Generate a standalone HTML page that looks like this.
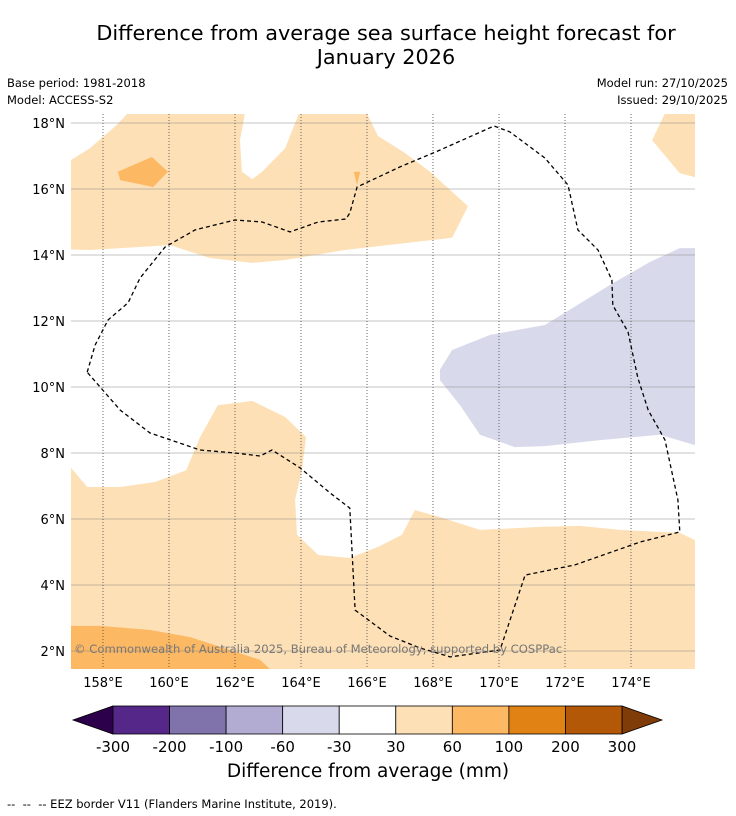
<!DOCTYPE html>
<html><head><meta charset="utf-8">
<style>
html,body{margin:0;padding:0;background:#fff;}
body{width:736px;height:816px;position:relative;overflow:hidden;font-family:"DejaVu Sans","Liberation Sans",sans-serif;}
.t{position:absolute;white-space:nowrap;color:#000;}
</style></head>
<body>
<div class="t" style="left:0;width:772px;text-align:center;top:22px;font-size:20.8px;line-height:23.5px;">Difference from average sea surface height forecast for<br>January 2026</div>
<div class="t" style="left:7px;top:76px;font-size:11.5px;">Base period: 1981-2018</div>
<div class="t" style="left:7px;top:93px;font-size:11.5px;">Model: ACCESS-S2</div>
<div class="t" style="right:8px;top:76px;font-size:11.5px;">Model run: 27/10/2025</div>
<div class="t" style="right:8px;top:93px;font-size:11.5px;">Issued: 29/10/2025</div>
<svg id="svg" width="736" height="816" style="position:absolute;left:0;top:0">
<defs><clipPath id="mc"><rect x="71" y="114" width="624" height="555"/></clipPath></defs>
<g id="map" clip-path="url(#mc)"></g>
<g id="axes"></g>
<g id="cbar"></g>
</svg>
<div class="t" style="left:0;width:736px;text-align:center;top:761px;font-size:18.5px;">Difference from average (mm)</div>
<div class="t" style="left:7px;top:797px;font-size:11.5px;">--&nbsp; --&nbsp; -- EEZ border V11 (Flanders Marine Institute, 2019).</div>
<script>
const lonTicks=[158,160,162,164,166,168,170,172,174];
const latTicks=[2,4,6,8,10,12,14,16,18];
const cbBounds=[-300,-200,-100,-60,-30,30,60,100,200,300];
const cbColors=["#542788","#8073ac","#b2abd2","#d8daeb","#ffffff","#fee0b6","#fdb863","#e08214","#b35806"];
const cbUnder="#2d004b", cbOver="#7f3b08";
const regionTopOrange=[[156.5,16.88],[157.03,16.88],[157.61,17.24],[158.45,17.97],[159.03,18.6],[162.36,18.6],[162.15,17.48],[162.21,16.52],[162.52,16.30],[162.82,16.52],[163.52,17.24],[164.06,18.6],[165.85,18.6],[166.33,17.61],[167.15,17.09],[167.91,16.52],[169.06,15.48],[168.58,14.52],[165.33,14.15],[163.52,13.85],[162.52,13.76],[161.24,13.91],[160.03,14.30],[157.61,14.15],[156.5,14.18]];
const regionNEOrange=[[174.64,17.48],[175.18,18.6],[176.5,18.6],[176.5,16.3],[175.94,16.36],[175.48,16.48]];
const regionSpot1=[[158.45,16.52],[159.48,16.97],[159.97,16.52],[159.52,16.06],[158.52,16.27]];
const regionSpot2=[[165.6,16.52],[165.79,16.52],[165.7,16.12]];
const regionPurple=[[168.21,10.52],[168.58,11.12],[169.73,11.58],[171.39,11.88],[173.36,13.09],[174.58,13.79],[175.48,14.21],[176.5,14.21],[176.5,8.2],[175.94,8.24],[174.88,8.55],[173.06,8.39],[171.39,8.21],[170.48,8.18],[169.42,8.55],[168.82,9.45],[168.21,10.21]];
const regionBottomOrange=[[156.5,7.55],[157.03,7.55],[157.52,6.97],[158.52,6.97],[159.58,7.12],[160.52,7.48],[160.94,8.48],[161.48,9.45],[162.52,9.58],[163.52,9.09],[164.15,8.48],[164.03,7.48],[163.82,6.58],[163.88,5.52],[164.52,4.91],[165.48,4.82],[166.39,5.18],[167.06,5.52],[167.45,6.27],[168.21,6.06],[169.42,5.67],[171.24,5.76],[172.45,5.79],[173.67,5.67],[175.48,5.58],[175.94,5.36],[176.5,5.3],[176.5,1.0],[156.5,1.0]];
const regionBottomDark=[[156.5,2.76],[157.91,2.76],[159.42,2.64],[160.64,2.42],[161.85,2.03],[162.76,1.73],[163.06,1.45],[163.2,1.0],[156.5,1.0]];
const eezLon=[157.52,157.76,158.15,158.76,159.12,159.88,160.79,162.00,162.82,163.67,164.52,165.36,165.48,165.70,167.00,168.21,169.85,170.33,171.39,172.09,172.39,173.00,173.42,173.45,173.91,174.21,174.52,175.03,175.42,175.48,174.27,172.30,170.79,170.03,168.52,167.61,166.70,165.64,165.48,164.88,163.97,163.12,162.76,162.00,160.94,159.42,158.52,157.52];
const eezLat=[10.45,11.27,12.03,12.55,13.30,14.24,14.76,15.06,15.00,14.70,15.00,15.09,15.27,16.06,16.67,17.18,17.91,17.73,16.94,16.12,14.76,14.15,13.24,12.48,11.67,10.27,9.30,8.39,6.58,5.61,5.30,4.61,4.30,2.03,1.82,2.09,2.45,3.24,6.33,6.79,7.55,8.09,7.91,8.00,8.09,8.61,9.30,10.45];

const NS="http://www.w3.org/2000/svg";
const X=lon=>70+(lon-157)*33;
const Y=lat=>123+(18-lat)*33;
function mk(tag,attrs,parent){const e=document.createElementNS(NS,tag);for(const k in attrs)e.setAttribute(k,attrs[k]);parent.appendChild(e);return e;}
const map=document.getElementById('map'),axes=document.getElementById('axes'),cbar=document.getElementById('cbar');
function poly(pts,fill,name){const e=mk('polygon',{points:pts.map(p=>X(p[0]).toFixed(1)+','+Y(p[1]).toFixed(1)).join(' '),fill:fill},map);

}
poly(regionTopOrange,"#fde0b6","contour-30-60-north");
poly(regionNEOrange,"#fde0b6","contour-30-60-northeast");
poly(regionSpot1,"#fdb863","contour-60-100-spot");
poly(regionSpot2,"#fdb863","contour-60-100-small");
poly(regionPurple,"#d8daeb","contour-neg60-neg30");
poly(regionBottomOrange,"#fde0b6","contour-30-60-south");
poly(regionBottomDark,"#fdb863","contour-60-100-southwest");
latTicks.forEach(v=>{const l=mk('line',{x1:71,x2:695,y1:Y(v),y2:Y(v),stroke:"#888",'stroke-width':0.5},map);

});
lonTicks.forEach(v=>{const l=mk('line',{x1:X(v),x2:X(v),y1:114,y2:669,stroke:"#444",'stroke-width':0.8,'stroke-dasharray':'1,2'},map);

});
const eez=mk('polyline',{points:eezLon.map((v,i)=>X(v).toFixed(1)+','+Y(eezLat[i]).toFixed(1)).join(' '),fill:'none',stroke:'#000','stroke-width':1.3,'stroke-dasharray':'4,3'},map);


const wm=mk('text',{x:74,y:653,'font-size':11.6,fill:'#777','font-family':'DejaVu Sans, sans-serif'},map);
wm.textContent="© Commonwealth of Australia 2025, Bureau of Meteorology, supported by COSPPac";


latTicks.forEach(v=>{const t=mk('text',{x:65,y:Y(v)+5,'text-anchor':'end','font-size':13,'font-family':'DejaVu Sans, sans-serif'},axes);t.textContent=v+'°N';

});
lonTicks.forEach(v=>{const t=mk('text',{x:X(v),y:687,'text-anchor':'middle','font-size':13,'font-family':'DejaVu Sans, sans-serif'},axes);t.textContent=v+'°E';

});
const cx0=113,cx1=622,cy0=706,cy1=734,n=cbColors.length,w=(cx1-cx0)/n;
const ut=mk('polygon',{points:`${cx0},${cy0} ${cx0},${cy1} 73,${(cy0+cy1)/2}`,fill:cbUnder,stroke:'#000','stroke-width':0.8},cbar);


const ot=mk('polygon',{points:`${cx1},${cy0} ${cx1},${cy1} 662,${(cy0+cy1)/2}`,fill:cbOver,stroke:'#000','stroke-width':0.8},cbar);


cbColors.forEach((c,i)=>{const r=mk('rect',{x:cx0+i*w,y:cy0,width:w,height:cy1-cy0,fill:c,stroke:'#000','stroke-width':0.8},cbar);

});
cbBounds.forEach((b,i)=>{const t=mk('text',{x:cx0+i*w,y:752,'text-anchor':'middle','font-size':15,'font-family':'DejaVu Sans, sans-serif'},cbar);t.textContent=b;

});
</script>
</body></html>
